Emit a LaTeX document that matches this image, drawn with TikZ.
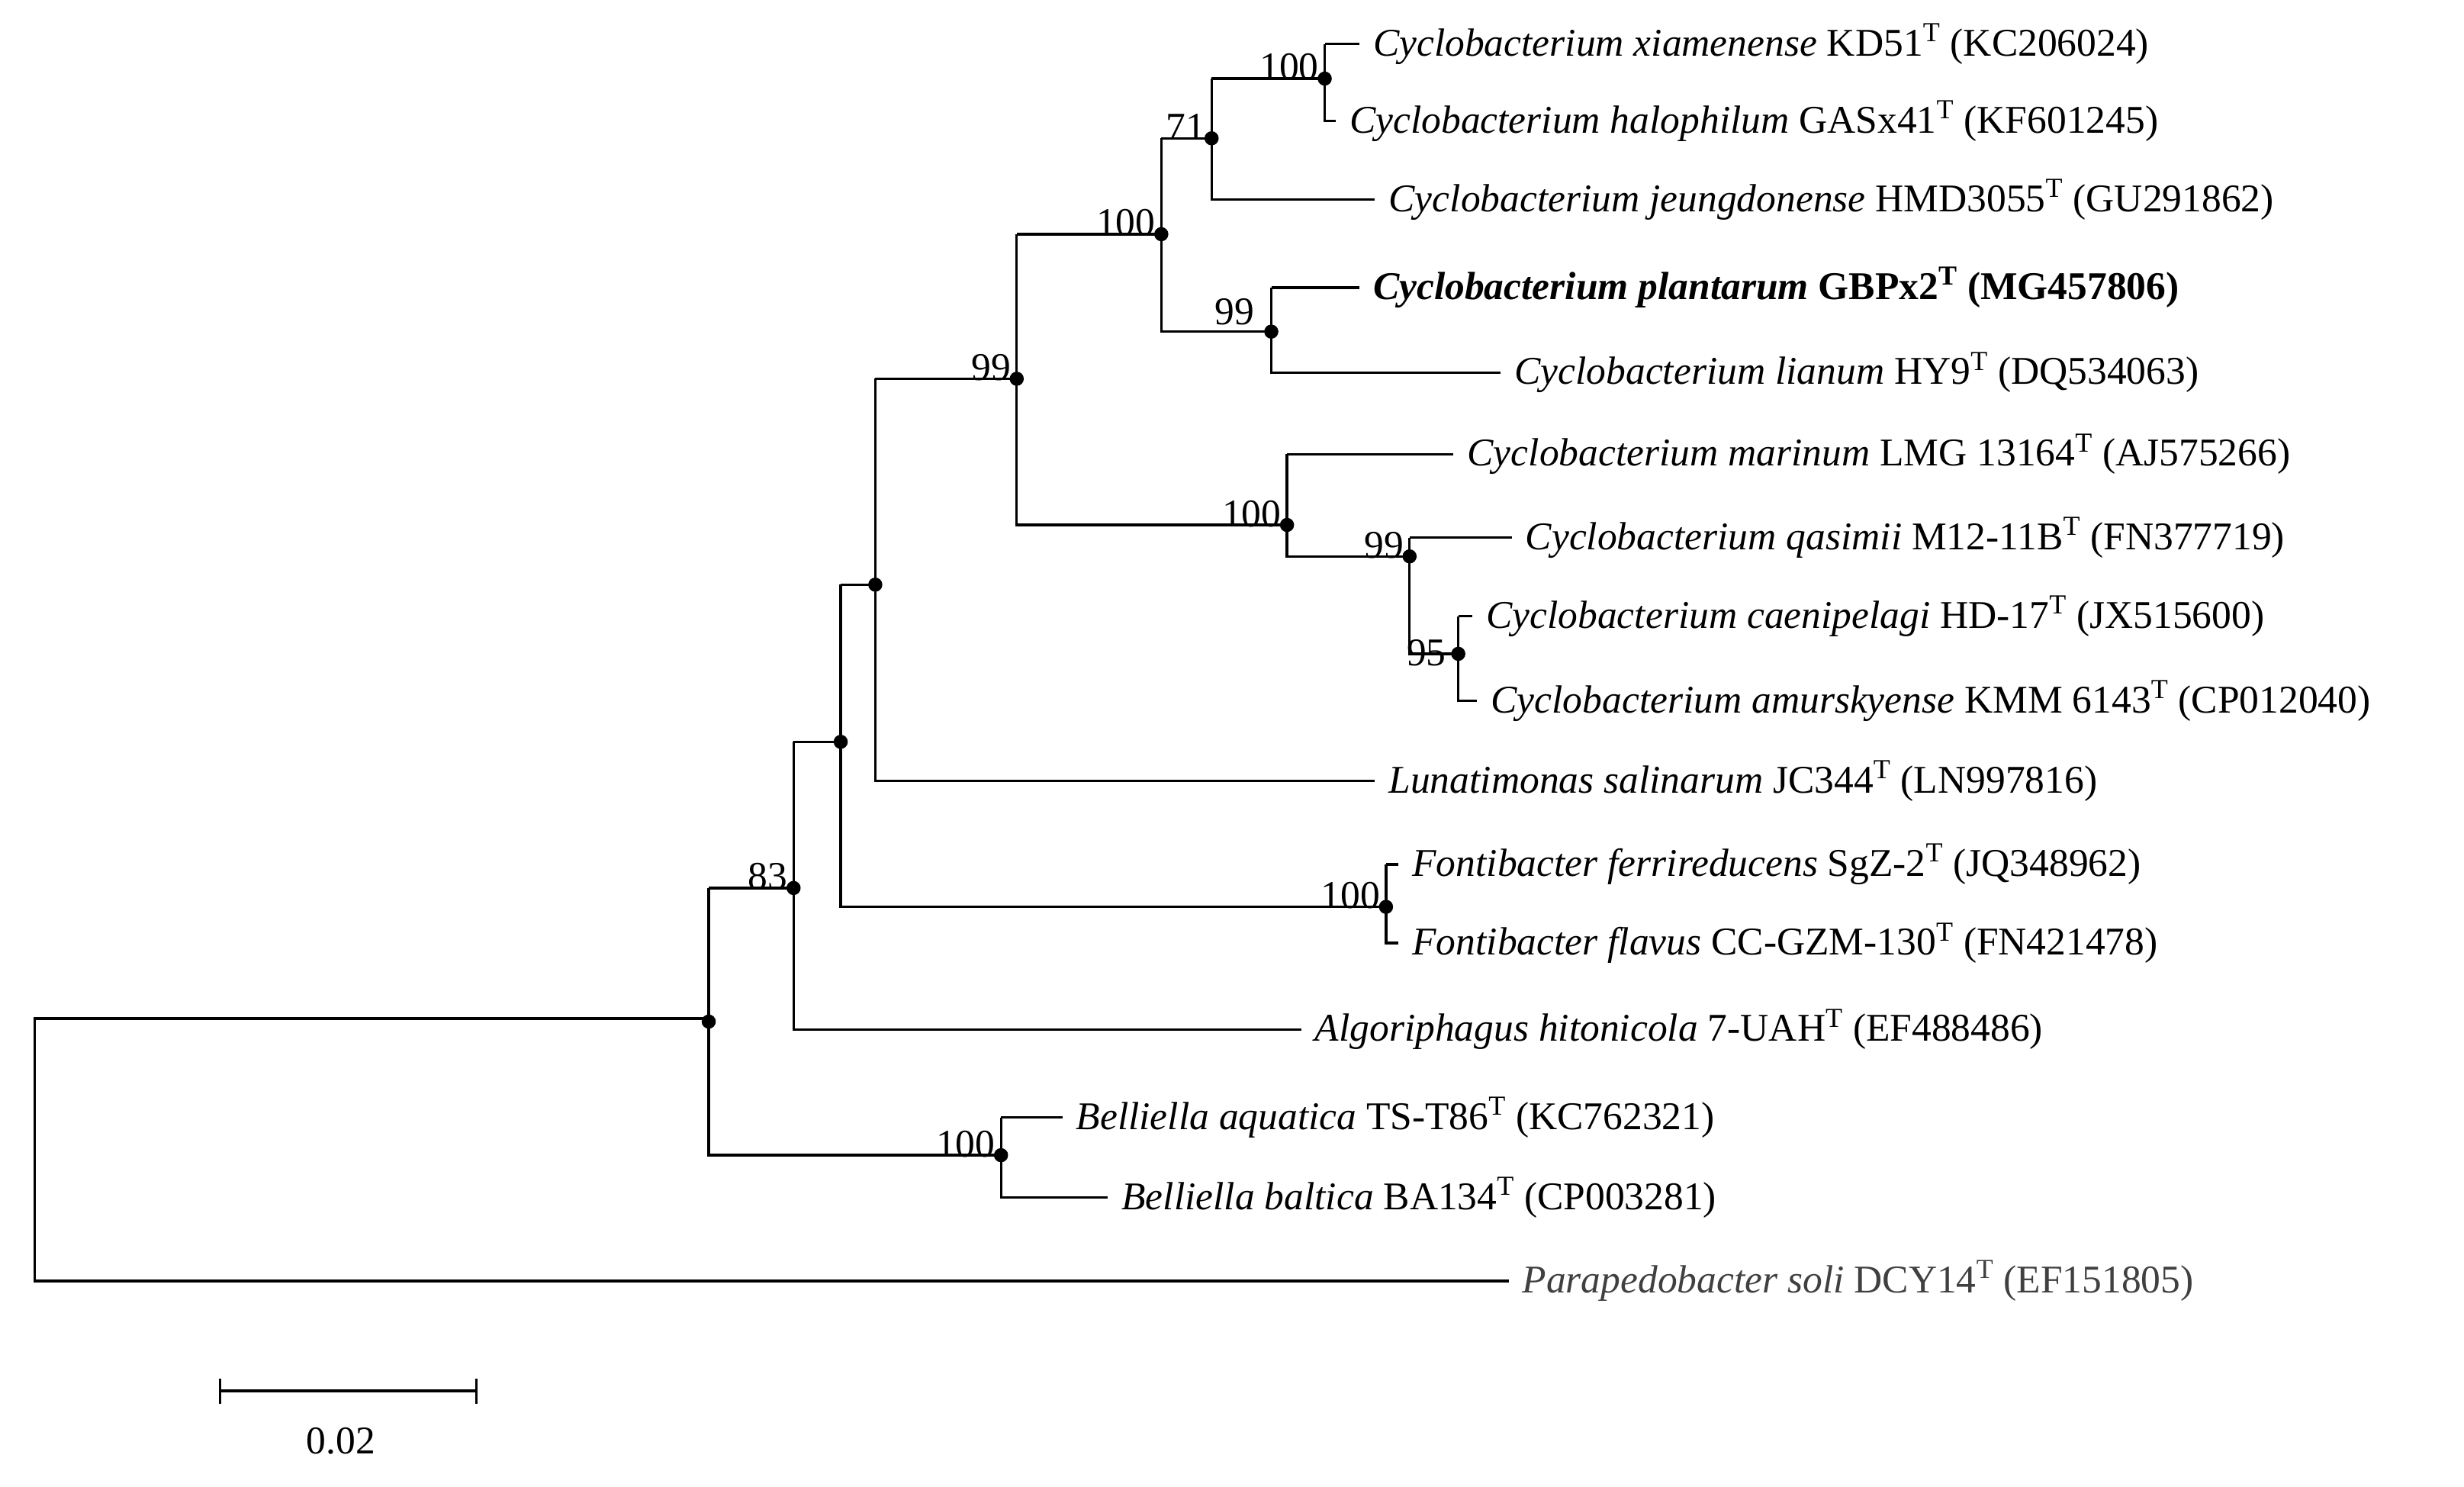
\documentclass[tikz,border=0pt]{standalone}
\usepackage{fontspec}
\setmainfont{Liberation Serif}
\begin{document}
\begin{tikzpicture}[x=1pt,y=-1pt,line width=1.6pt,
  lf/.style={anchor=west,inner sep=0pt,font=\fontsize{25}{28}\selectfont},
  bs/.style={font=\fontsize{25}{28}\selectfont,inner sep=0pt},
  dot/.style={circle,fill,inner sep=0pt,minimum size=9pt}]
\useasboundingbox (0,0) rectangle (1568,946);
% internal nodes
\coordinate (R) at (22,648);
\coordinate (A) at (451,650);
\coordinate (B83) at (505,565);
\coordinate (B) at (535,472);
\coordinate (C) at (557,372);
\coordinate (N99) at (647,241);
\coordinate (N100a) at (739,149);
\coordinate (N71) at (771,88);
\coordinate (N100c) at (843,50);
\coordinate (N99b) at (809,211);
\coordinate (N100b) at (819,334);
\coordinate (N99c) at (897,354);
\coordinate (N95) at (928,416);
\coordinate (F) at (882,577);
\coordinate (Bel) at (637,735);
% leaf ends
\coordinate (Lxia) at (865,28);
\coordinate (Lhal) at (850,77);
\coordinate (Ljeu) at (875,127);
\coordinate (Lpla) at (865,183);
\coordinate (Llia) at (955,237);
\coordinate (Lmar) at (925,289);
\coordinate (Lqas) at (962,342);
\coordinate (Lcae) at (937,392);
\coordinate (Lamu) at (940,446);
\coordinate (Llun) at (875,497);
\coordinate (Lfer) at (890,550);
\coordinate (Lfla) at (890,600);
\coordinate (Lalg) at (828,655);
\coordinate (Laqu) at (676,711);
\coordinate (Lbal) at (705,762);
\coordinate (Lpar) at (960,815);
% tree edges
\draw (A) |- (R) -- (R|-Lpar) -- (Lpar);
\draw (B83|-B) -- (B83|-Lalg) -- (Lalg);
\draw (A|-B83) -- (A|-Bel) -- (Bel);
\draw (B83) -- (A|-B83);
\draw (B|-C) -- (B|-F) -- (F);
\draw (B83|-B) -- (B);
\draw (C|-N99) -- (C|-Llun) -- (Llun);
\draw (C) -- (B|-C);
\draw (N99|-N100a) -- (N99|-N100b) -- (N100b);
\draw (N99) -- (C|-N99);
\draw (N100a|-N71) -- (N100a|-N99b) -- (N99b);
\draw (N100a) -- (N99|-N100a);
\draw (N71|-N100c) -- (N71|-Ljeu) -- (Ljeu);
\draw (N71) -- (N100a|-N71);
\draw (N100c|-Lxia) -- (Lxia); \draw (N100c|-Lxia) -- (N100c|-Lhal) -- (Lhal);
\draw (N100c) -- (N71|-N100c);
\draw (N99b|-Lpla) -- (Lpla); \draw (N99b|-Lpla) -- (N99b|-Llia) -- (Llia);
\draw (N100b|-Lmar) -- (Lmar); \draw (N100b|-Lmar) -- (N100b|-N99c) -- (N99c);
\draw (N99c|-Lqas) -- (Lqas); \draw (N99c|-Lqas) -- (N99c|-N95) -- (N95);
\draw (N95|-Lcae) -- (Lcae); \draw (N95|-Lcae) -- (N95|-Lamu) -- (Lamu);
\draw (F|-Lfer) -- (Lfer); \draw (F|-Lfer) -- (F|-Lfla) -- (Lfla);
\draw (Bel|-Laqu) -- (Laqu); \draw (Bel|-Laqu) -- (Bel|-Lbal) -- (Lbal);
% dots
\foreach \n in {A,B83,B,C,N99,N100a,N71,N100c,N99b,N100b,N99c,N95,F,Bel}
  \node[dot] at (\n) {};
% support values
\node[bs,anchor=south east] at ([xshift=-3pt,yshift=-2pt]N100c) {100};
\node[bs,anchor=south east] at ([xshift=-3pt,yshift=-2pt]N71) {71};
\node[bs,anchor=south east] at ([xshift=-3pt,yshift=-2pt]N100a) {100};
\node[bs,anchor=south east] at ([xshift=-3pt,yshift=-2pt]N99) {99};
\node[bs,anchor=north east] at ([xshift=-10pt,yshift=22pt]N99b) {99};
\node[bs,anchor=south east] at ([xshift=-3pt,yshift=-2pt]N100b) {100};
\node[bs,anchor=south east] at ([xshift=-3pt,yshift=-2pt]N99c) {99};
\node[bs,anchor=north east] at ([xshift=-7pt,yshift=10pt]N95) {95};
\node[bs,anchor=south east] at ([xshift=-3pt,yshift=-2pt]B83) {83};
\node[bs,anchor=south east] at ([xshift=-3pt,yshift=-2pt]F) {100};
\node[bs,anchor=south east] at ([xshift=-3pt,yshift=-2pt]Bel) {100};
% leaf labels
\node[lf] (txia) at ([xshift=8pt]Lxia) {\textit{Cyclobacterium xiamenense} KD51\textsuperscript{T} (KC206024)};
\node[lf] (thal) at ([xshift=8pt]Lhal) {\textit{Cyclobacterium halophilum} GASx41\textsuperscript{T} (KF601245)};
\node[lf] (tjeu) at ([xshift=8pt]Ljeu) {\textit{Cyclobacterium jeungdonense} HMD3055\textsuperscript{T} (GU291862)};
\node[lf] (tpla) at ([xshift=8pt]Lpla) {\textbf{\textit{Cyclobacterium plantarum} GBPx2\textsuperscript{T} (MG457806)}};
\node[lf] (tlia) at ([xshift=8pt]Llia) {\textit{Cyclobacterium lianum} HY9\textsuperscript{T} (DQ534063)};
\node[lf] (tmar) at ([xshift=8pt]Lmar) {\textit{Cyclobacterium marinum} LMG 13164\textsuperscript{T} (AJ575266)};
\node[lf] (tqas) at ([xshift=8pt]Lqas) {\textit{Cyclobacterium qasimii} M12-11B\textsuperscript{T} (FN377719)};
\node[lf] (tcae) at ([xshift=8pt]Lcae) {\textit{Cyclobacterium caenipelagi} HD-17\textsuperscript{T} (JX515600)};
\node[lf] (tamu) at ([xshift=8pt]Lamu) {\textit{Cyclobacterium amurskyense} KMM 6143\textsuperscript{T} (CP012040)};
\node[lf] (tlun) at ([xshift=8pt]Llun) {\textit{Lunatimonas salinarum} JC344\textsuperscript{T} (LN997816)};
\node[lf] (tfer) at ([xshift=8pt]Lfer) {\textit{Fontibacter ferrireducens} SgZ-2\textsuperscript{T} (JQ348962)};
\node[lf] (tfla) at ([xshift=8pt]Lfla) {\textit{Fontibacter flavus} CC-GZM-130\textsuperscript{T} (FN421478)};
\node[lf] (talg) at ([xshift=8pt]Lalg) {\textit{Algoriphagus hitonicola} 7-UAH\textsuperscript{T} (EF488486)};
\node[lf] (taqu) at ([xshift=8pt]Laqu) {\textit{Belliella aquatica} TS-T86\textsuperscript{T} (KC762321)};
\node[lf] (tbal) at ([xshift=8pt]Lbal) {\textit{Belliella baltica} BA134\textsuperscript{T} (CP003281)};
\node[lf,text=black!75] (tpar) at ([xshift=8pt]Lpar) {\textit{Parapedobacter soli} DCY14\textsuperscript{T} (EF151805)};
% scale bar
\coordinate (S1) at (140,885); \coordinate (S2) at (303,885);
\draw (S1) -- (S2);
\draw ([yshift=-8pt]S1) -- ([yshift=8pt]S1);
\draw ([yshift=-8pt]S2) -- ([yshift=8pt]S2);
\node[bs] (sl) at (217,917) {0.02};
\end{tikzpicture}
\end{document}
